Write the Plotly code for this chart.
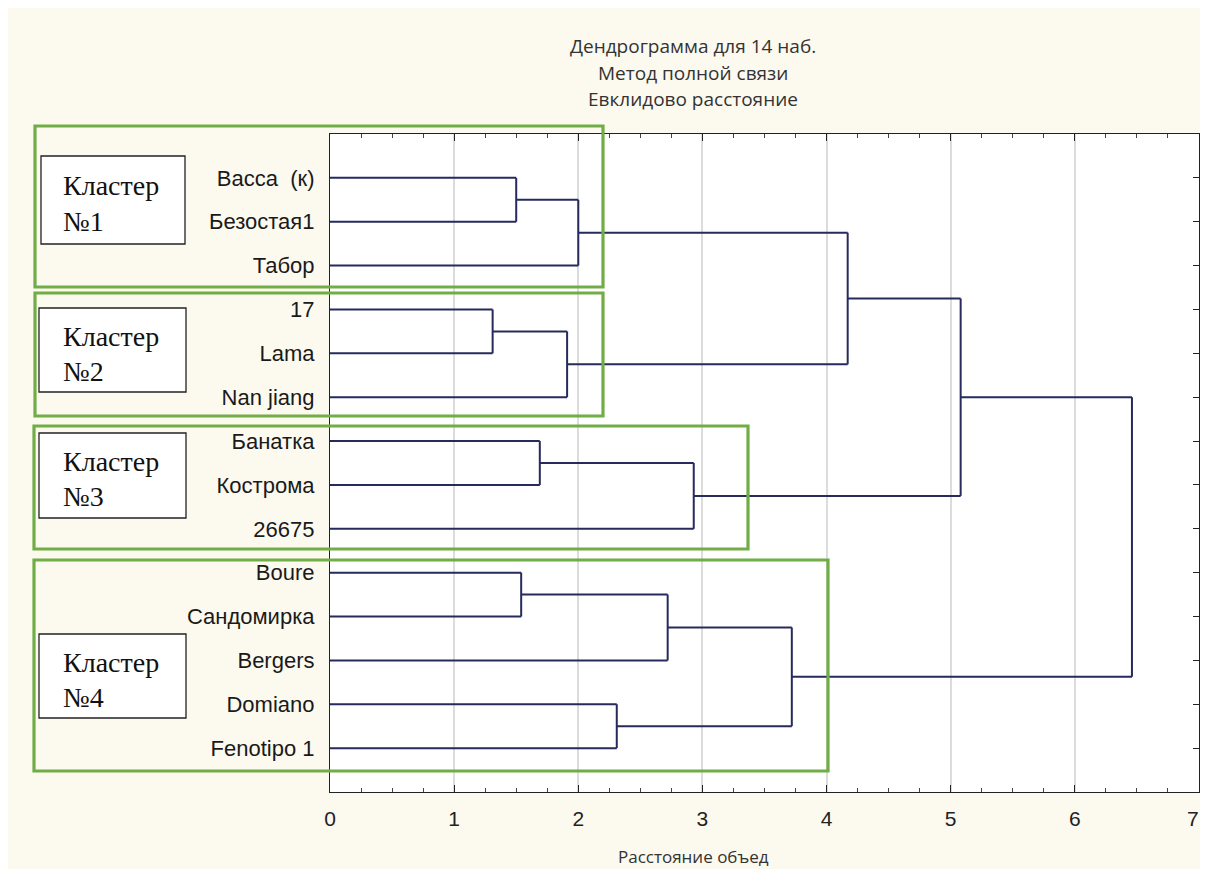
import plotly.graph_objects as go

# ---------------- data ----------------
leaves = ["Васса  (к)", "Безостая1", "Табор", "17", "Lama", "Nan jiang",
          "Банатка", "Кострома", "26675", "Boure", "Сандомирка", "Bergers",
          "Domiano", "Fenotipo 1"]
# linkage: (child_a, child_b, distance); leaves are 0..13, new nodes 14..
merge_a = [0, 14, 3, 16, 15, 6, 19, 18, 9, 22, 12, 23, 21]
merge_b = [1, 2, 4, 5, 17, 7, 8, 20, 10, 11, 13, 24, 25]
merge_h = [1.50, 2.00, 1.31, 1.91, 4.17, 1.69, 2.93, 5.08, 1.54, 2.72, 2.31, 3.72, 6.46]
x_ticks = [0, 1, 2, 3, 4, 5, 6, 7]
clusters = ["Кластер", "Кластер", "Кластер", "Кластер"]
cluster_no = ["№1", "№2", "№3", "№4"]

title_lines = ["Дендрограмма для 14 наб.", "Метод полной связи", "Евклидово расстояние"]
x_title = "Расстояние объед"

# ---------------- build dendrogram segments ----------------
n = len(leaves)
pos = {i: i + 1 for i in range(n)}
hgt = {i: 0.0 for i in range(n)}
xs, ys = [], []
for k, (a, b, h) in enumerate(zip(merge_a, merge_b, merge_h)):
    node = n + k
    for c in (a, b):
        xs += [hgt[c], h, None]
        ys += [pos[c], pos[c], None]
    xs += [h, h, None]
    ys += [pos[a], pos[b], None]
    pos[node] = (pos[a] + pos[b]) / 2
    hgt[node] = h

# page has an 8px body margin on every side; keep the figure inside the window
OFF = 8
PW, PH = 1208, 877
W, H = PW - 2 * OFF, PH - 2 * OFF
L, R, T, B = 330, 1199, 134, 792   # plot area in page pixels

fig = go.Figure()
fig.add_trace(go.Scatter(x=xs, y=ys, mode="lines",
                         line=dict(color="#262a5c", width=2),
                         hoverinfo="skip", showlegend=False))
fig.add_trace(go.Scatter(x=[0] * n, y=list(range(1, n + 1)), yaxis="y2",
                         mode="markers", marker=dict(opacity=0),
                         hoverinfo="skip", showlegend=False))

def px(x):
    return (x - L) / (R - L)

def py(y):
    return (B - y) / (B - T)

shapes = []
green = [(35, 126, 603, 287), (35, 293, 603, 416), (34, 426, 748, 549), (34, 560, 828, 771)]
white = [(41, 156, 185, 244), (39, 308, 186, 392), (39, 433, 186, 518), (39, 634, 186, 718)]
for (x0, y0, x1, y1) in white:
    shapes.append(dict(type="rect", xref="paper", yref="paper", x0=px(x0), x1=px(x1),
                       y0=py(y1), y1=py(y0), fillcolor="white",
                       line=dict(color="#222222", width=1.3), layer="above"))
for (x0, y0, x1, y1) in green:
    shapes.append(dict(type="rect", xref="paper", yref="paper", x0=px(x0), x1=px(x1),
                       y0=py(y1), y1=py(y0), fillcolor="rgba(0,0,0,0)",
                       line=dict(color="#70ad47", width=3.2), layer="above"))

tick_font = dict(family="Liberation Sans", size=21, color="#222")

annotations = []
for i, (t, yy) in enumerate(zip(title_lines, [46, 73, 99])):
    annotations.append(dict(text=t, xref="paper", yref="paper", x=px(693), y=py(yy),
                            xanchor="center", yanchor="middle", showarrow=False,
                            font=dict(family="Open Sans", size=19, color="#333333")))
annotations.append(dict(text=x_title, xref="paper", yref="paper", x=px(693), y=py(856),
                        xanchor="center", yanchor="middle", showarrow=False,
                        font=dict(family="Open Sans", size=17, color="#333333")))
# last tick label sits on the page edge: draw it flush right so it is not dropped
annotations.append(dict(text=str(x_ticks[-1]), xref="x", yref="paper", x=x_ticks[-1],
                        y=py(818), xanchor="right", yanchor="middle", showarrow=False,
                        xshift=2, font=tick_font))
for (x0, y0, x1, y1), c, no in zip(white, clusters, cluster_no):
    cy = (y0 + y1) / 2
    annotations.append(dict(text=c, xref="paper", yref="paper", x=px(61), y=py(cy - 14),
                            xanchor="left", yanchor="middle", showarrow=False,
                            font=dict(family="Liberation Serif", size=28, color="#111111")))
    annotations.append(dict(text=no, xref="paper", yref="paper", x=px(61), y=py(cy + 21),
                            xanchor="left", yanchor="middle", showarrow=False,
                            font=dict(family="Liberation Serif", size=28, color="#111111")))

fig.update_layout(
    width=W, height=H,
    margin=dict(l=L - OFF, r=(PW - OFF) - R, t=T - OFF, b=(PH - OFF) - B, pad=0),
    paper_bgcolor="#fcf9ef", plot_bgcolor="white",
    shapes=shapes, annotations=annotations,
    xaxis=dict(range=[0, 7], tickvals=x_ticks, ticktext=[str(v) for v in x_ticks],
               ticks="inside", ticklen=7, tickcolor="#222", tickwidth=1.2,
               minor=dict(ticks="inside", dtick=0.25, ticklen=4, tickcolor="#444", showgrid=False),
               showgrid=True, gridcolor="#dcdcdc", gridwidth=1.5,
               showline=True, linecolor="#222", linewidth=1.2, mirror="ticks",
               zeroline=False, ticklabelstandoff=8,
               tickfont=tick_font),
    yaxis=dict(range=[15, 0], tickvals=list(range(1, n + 1)), ticktext=leaves,
               ticks="", showgrid=False, zeroline=False,
               showline=True, linecolor="#222", linewidth=1.2, mirror=True,
               ticklabelstandoff=10,
               tickfont=dict(family="Liberation Sans", size=22, color="#1a1a1a")),
    yaxis2=dict(range=[15, 0], overlaying="y", side="right",
                tickvals=list(range(1, n + 1)), showticklabels=False,
                ticks="inside", ticklen=6, tickcolor="#222", tickwidth=1.2,
                showgrid=False, zeroline=False, showline=False),
)

fig.write_html("out.html")
